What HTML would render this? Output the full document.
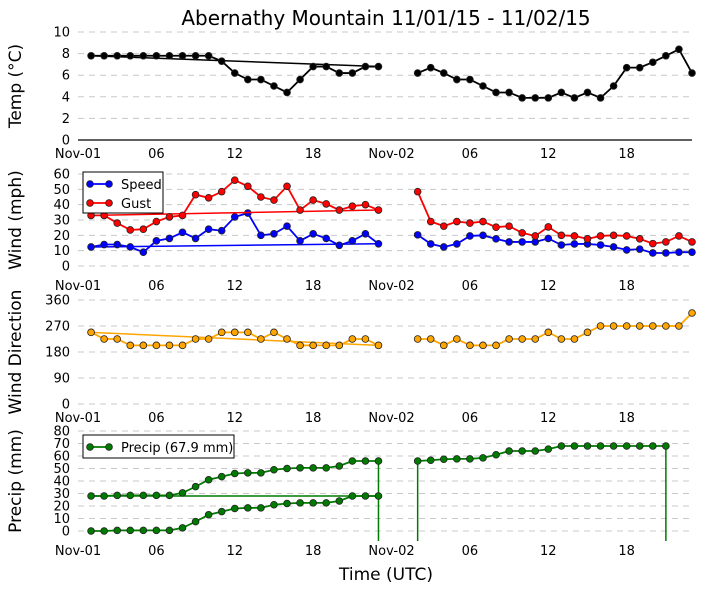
<!DOCTYPE html>
<html><head><meta charset="utf-8"><style>
body{margin:0;background:#fff;}
svg{display:block;font-family:"DejaVu Sans","Liberation Sans",sans-serif;}
</style></head><body>
<svg id="c" width="705" height="593"></svg>
<script>
const hoursLeft=[1,2,3,4,5,6,7,8,9,10,11,12,13,14,15,16,17,18,19,20,21,22,23];
const hoursRight=[26,27,28,29,30,31,32,33,34,35,36,37,38,39,40,41,42,43,44,45,46,47];
const hoursPrecipRight=[26,27,28,29,30,31,32,33,34,35,36,37,38,39,40,41,42,43,44,45];
const tempLeft=[7.8,7.8,7.8,7.8,7.8,7.8,7.8,7.8,7.8,7.8,7.3,6.2,5.6,5.6,5.0,4.4,5.6,6.8,6.8,6.2,6.2,6.8,6.8];
const tempRight=[6.2,6.7,6.2,5.6,5.6,5.0,4.4,4.4,3.9,3.9,3.9,4.4,3.9,4.4,3.9,5.0,6.7,6.7,7.2,7.8,8.4,6.2];
const speedLeft=[12.4,14,14,12.4,9,16.4,18,22,18,24,23,32,34.5,20,21,26,16.4,21,18,13.5,16.4,21,14.5];
const gustLeft=[33,33,28,23.5,24,29,32,33,46.5,44.5,48.5,56,52,45,43,52,36.5,43,40.5,36.5,39,40,36.5];
const speedRight=[20.3,14.4,12.4,14.4,19.6,20,17.7,15.7,15.7,15.7,18,13.7,14.4,14.4,13.7,12.4,10.5,11,8.5,8.5,9,9];
const gustRight=[48.5,29,26,29,28,29,25.3,26,21.6,19.6,25.5,20,19.6,17.7,19.6,20,19.6,17.7,14.6,15.7,19.6,15.7];
const dirLeft=[248,225,225,203,203,203,203,203,225,225,248,248,248,225,248,225,203,203,203,203,225,225,203];
const dirRight=[225,225,203,225,203,203,203,225,225,225,248,225,225,248,270,270,270,270,270,270,270,315];
const precipLowLeft=[0,0,0.5,0.5,0.5,0.5,0.5,2.5,7.5,13,15.5,18,18.5,18.5,21,22,22.5,22.5,22.5,24,28,28,28];
const precipTopLeft=[28,28,28.5,28.5,28.5,28.5,28.5,30.5,35.5,41,43.5,46,46.5,46.5,49,50,50.5,50.5,50.5,52,56,56,56];
const precipRight=[56,56.6,57.4,57.7,57.7,58.5,61,64,64,64,65.5,68,68,68,68,68,68,68,68,68];
const xTickLabels=["Nov-01","06","12","18","Nov-02","06","12","18"];
const xTickHours=[0,6,12,18,24,30,36,42];

const svg=document.getElementById('c');const NS='http://www.w3.org/2000/svg';
function el(t,a,p){const e=document.createElementNS(NS,t);for(const k in a)e.setAttribute(k,a[k]);(p||svg).appendChild(e);return e;}
const X=h=>78+h*(614/47);
const panels=[
 {name:'temp',top:32,bot:140,min:0,max:10,step:2,title:'Temp (\u00B0C)',axisY:140,lblY:158},
 {name:'wind',top:174,bot:266,min:0,max:60,step:10,title:'Wind (mph)',axisY:null,lblY:290},
 {name:'dir',top:300,bot:404,min:0,max:360,step:90,title:'Wind Direction',axisY:null,lblY:422},
 {name:'precip',top:431,bot:531,min:0,max:80,step:10,title:'Precip (mm)',axisY:null,lblY:555}];
panels.forEach(p=>{p.Y=v=>p.bot-(v-p.min)/(p.max-p.min)*(p.bot-p.top);
 const g=el('g',{});
 for(let v=p.min;v<=p.max;v+=p.step){const y=p.Y(v);
  if(p.axisY!==null&&Math.abs(y-p.axisY)<1){const l=el('line',{x1:78,x2:692,y1:y,y2:y,stroke:'#000','stroke-width':1.2},g);}
  else{const l=el('line',{x1:78,x2:692,y1:y,y2:y,stroke:'#c8c8c8','stroke-dasharray':'6,5'},g);}
  const t=el('text',{x:70,y:y+4.5,'text-anchor':'end','font-size':13},g);t.textContent=v;}
 xTickLabels.forEach((s,i)=>{const t=el('text',{x:X(xTickHours[i]),y:p.lblY,'text-anchor':'middle','font-size':13},g);t.textContent=s;});
 const cy=(p.top+p.bot)/2;const tt=el('text',{x:21,y:cy,'text-anchor':'middle','font-size':17,transform:`rotate(-90 21 ${cy})`},g);tt.textContent=p.title;});
function series(p,hs,vals,col,name,closeLine){
 const g=el('g',{});
 const pts=hs.map((h,i)=>X(h)+','+p.Y(vals[i]));
 if(closeLine)el('line',{x1:X(hs[0]),y1:p.Y(vals[0]),x2:X(hs[hs.length-1]),y2:p.Y(vals[vals.length-1]),stroke:col,'stroke-width':1.5},g);
 el('polyline',{points:pts.join(' '),fill:'none',stroke:col,'stroke-width':1.8},g);
 hs.forEach((h,i)=>{const c=el('circle',{cx:X(h),cy:p.Y(vals[i]),r:3.4,fill:col,stroke:'#222','stroke-width':0.8},g);});}
const [T,W,D,P]=panels;
series(T,hoursLeft,tempLeft,'#000','temp-left',true);
series(T,hoursRight,tempRight,'#000','temp-right',false);
series(W,hoursLeft,speedLeft,'#0000ff','speed-left',true);
series(W,hoursRight,speedRight,'#0000ff','speed-right',false);
series(W,hoursLeft,gustLeft,'#ff0000','gust-left',true);
series(W,hoursRight,gustRight,'#ff0000','gust-right',false);
series(D,hoursLeft,dirLeft,'#ffa500','dir-left',true);
series(D,hoursRight,dirRight,'#ffa500','dir-right',false);
const pg='#007a00';
const ln=hoursLeft.length;
el('line',{x1:X(hoursLeft[0]),y1:P.Y(precipTopLeft[0]),x2:X(hoursLeft[ln-1]),y2:P.Y(precipLowLeft[ln-1]),stroke:pg,'stroke-width':1.5});
el('line',{x1:X(hoursLeft[ln-1]),y1:P.Y(precipTopLeft[ln-1]),x2:X(hoursLeft[ln-1]),y2:541,stroke:pg,'stroke-width':1.5});
el('line',{x1:X(hoursPrecipRight[0]),y1:P.Y(precipRight[0]),x2:X(hoursPrecipRight[0]),y2:541,stroke:pg,'stroke-width':1.5});
const lr=hoursPrecipRight.length;
el('line',{x1:X(hoursPrecipRight[lr-1]),y1:P.Y(precipRight[lr-1]),x2:X(hoursPrecipRight[lr-1]),y2:541,stroke:pg,'stroke-width':1.5});
series(P,hoursLeft,precipLowLeft,pg,'precip-low-left',false);
series(P,hoursLeft,precipTopLeft,pg,'precip-top-left',false);
series(P,hoursPrecipRight,precipRight,pg,'precip-right',false);
function legend(x,y,w,h,items,name){const g=el('g',{});
 el('rect',{x,y,width:w,height:h,fill:'#fff',stroke:'#000','stroke-width':1},g);
 items.forEach((it,i)=>{const yy=y+12+i*19;el('line',{x1:x+7,x2:x+26,y1:yy,y2:yy,stroke:it[1],'stroke-width':1.8},g);
  [x+7,x+26].forEach(cx=>el('circle',{cx,cy:yy,r:3.4,fill:it[1],stroke:'#222','stroke-width':0.8},g));
  const t=el('text',{x:x+38,y:yy+5,'font-size':13},g);t.textContent=it[0];});}
legend(83,172,80,41,[['Speed','#0000ff'],['Gust','#ff0000']],'wind-legend');
legend(83,435,151,23,[['Precip (67.9 mm)',pg]],'precip-legend');
const tt=el('text',{x:386,y:25,'text-anchor':'middle','font-size':20});tt.textContent='Abernathy Mountain 11/01/15 - 11/02/15';
const xt=el('text',{x:386,y:580,'text-anchor':'middle','font-size':17});xt.textContent='Time (UTC)';
</script>
</body></html>
